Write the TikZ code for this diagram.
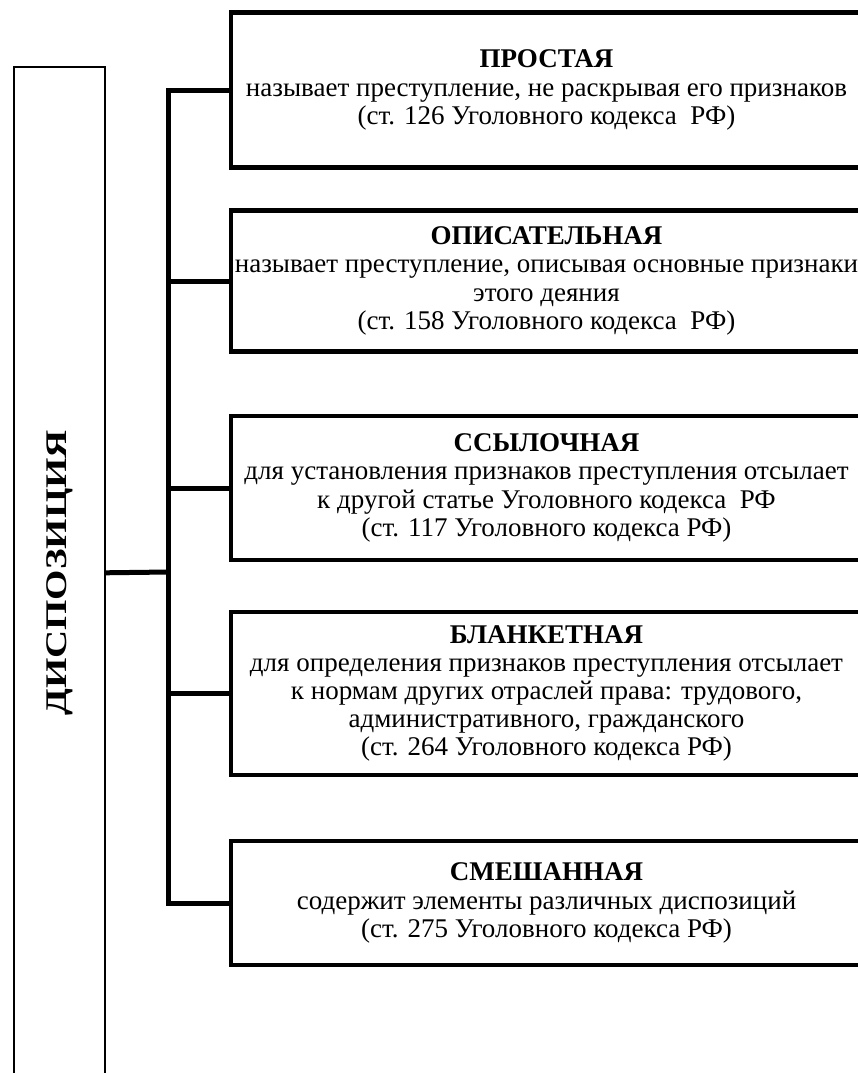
\documentclass[tikz,border=0pt]{standalone}
\usepackage{fontspec}
\setmainfont{LiberationSerif}[Extension=.ttf, UprightFont=*-Regular, BoldFont=*-Bold, ItalicFont=*-Italic, BoldItalicFont=*-BoldItalic]
\usepackage{graphicx}
\usepackage{xcolor}
\usepackage{tikz}

\begin{document}
\begin{tikzpicture}[x=1pt, y=-1pt]
    % Define styles
    \tikzstyle{vidbox} = [rectangle, draw=black, line width=4.8pt, outer sep=0pt, minimum width=631pt, anchor=west, align=center, text centered, font=\fontsize{27}{28.2}\selectfont]
    \tikzstyle{rootbox} = [rectangle, draw=black, line width=2pt, outer sep=0pt, rotate=90, anchor=east, minimum width=1012pt, minimum height=91.3pt, font=\fontsize{30}{32}\selectfont\bfseries]
    \tikzstyle{link} = [line width=5pt]

    \useasboundingbox (0,0) rectangle (857,1073);

    % Nodes
    \node [rootbox] (disp) at (59.4,66.8) {\scalebox{1.3}[1]{ДИСПОЗИЦИЯ}};
    \coordinate (hub) at (168.5,572);
    \node [vidbox, minimum height=155pt] (prost) at (231,90) {\textbf{ПРОСТАЯ}\\называет преступление, не раскрывая его признаков\\(ст. 126 Уголовного кодекса\ \ РФ)};
    \node [vidbox, minimum height=141.7pt] (opis) at (231,281) {\textbf{ОПИСАТЕЛЬНАЯ}\\называет преступление, описывая основные признаки\\этого деяния\\(ст. 158 Уголовного кодекса\ \ РФ)};
    \node [vidbox, minimum height=144pt] (ssyl) at (231,488) {\textbf{ССЫЛОЧНАЯ}\\для установления признаков преступления отсылает\\к другой статье Уголовного кодекса\ \ РФ\\(ст. 117 Уголовного кодекса РФ)};
    \node [vidbox, minimum height=163pt] (blank) at (231,693.5) {\textbf{БЛАНКЕТНАЯ}\\для определения признаков преступления отсылает\\к нормам других отраслей права: трудового,\\административного, гражданского\\(ст. 264 Уголовного кодекса РФ)};
    \node [vidbox, minimum height=124pt] (smesh) at (231,903) {\textbf{СМЕШАННАЯ}\\содержит элементы различных диспозиций\\(ст. 275 Уголовного кодекса РФ)};

    % Lines
    \draw [link] (disp.south) -- (hub);
    \draw [link] (prost.west) -- (prost.west -| hub) -- (smesh.west -| hub) -- (smesh.west);
    \draw [link] (opis.west -| hub) -- (opis.west);
    \draw [link] (ssyl.west -| hub) -- (ssyl.west);
    \draw [link] (blank.west -| hub) -- (blank.west);

\end{tikzpicture}
\end{document}
